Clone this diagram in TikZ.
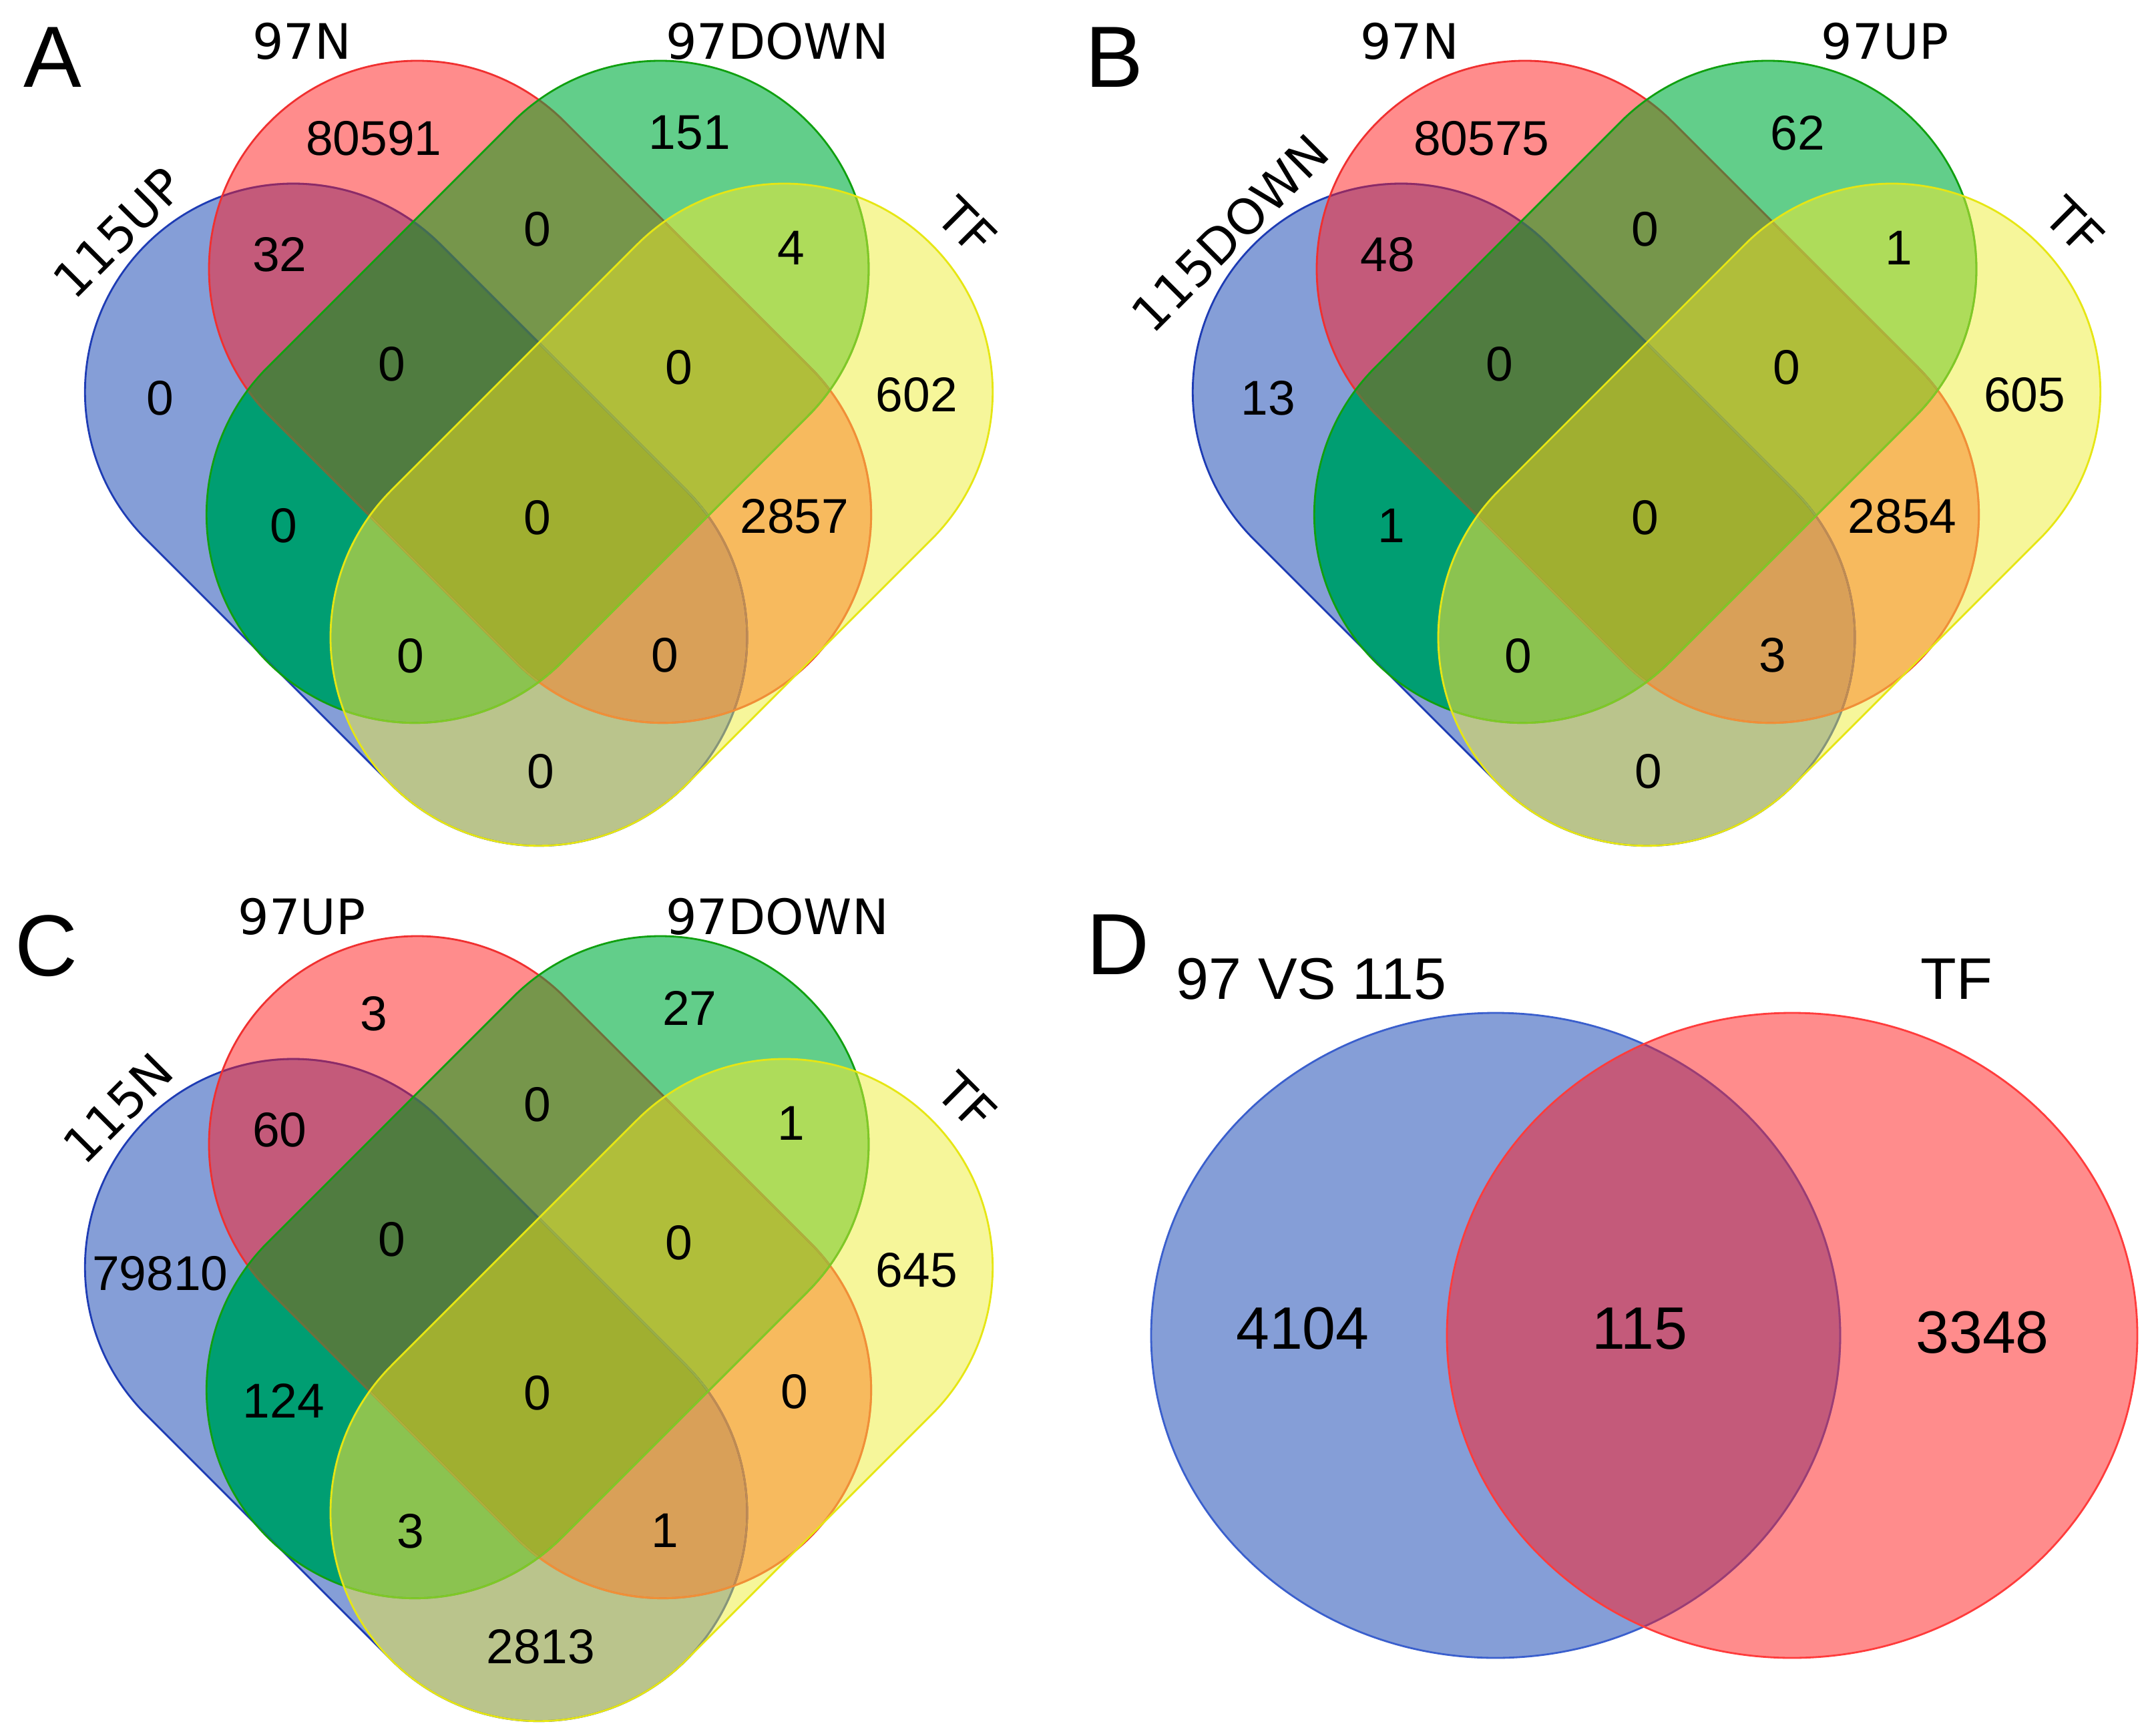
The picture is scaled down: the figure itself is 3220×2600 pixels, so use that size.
\documentclass[tikz,border=0pt]{standalone}
\usepackage{fontspec}
\setmainfont{Liberation Sans}
\newfontfamily\labfont{DejaVu Sans}
\definecolor{cB}{HTML}{859ED7}
\definecolor{cR}{HTML}{FF8C8C}
\definecolor{cG}{HTML}{62CE8A}
\definecolor{cY}{HTML}{F6F69A}
\definecolor{cBR}{HTML}{C45A7A}
\definecolor{cBG}{HTML}{009E72}
\definecolor{cBY}{HTML}{BAC48C}
\definecolor{cRG}{HTML}{76964B}
\definecolor{cRY}{HTML}{F7BA5E}
\definecolor{cGY}{HTML}{AEDC5A}
\definecolor{cBRG}{HTML}{507C40}
\definecolor{cBRY}{HTML}{D9A058}
\definecolor{cBGY}{HTML}{8BC350}
\definecolor{cRGY}{HTML}{B0BE3A}
\definecolor{cAll}{HTML}{A0AF30}
\definecolor{oB}{HTML}{1E3CB4}
\definecolor{oR}{HTML}{F03030}
\definecolor{oG}{HTML}{10A010}
\definecolor{oY}{HTML}{E6E614}
\definecolor{tintR}{HTML}{FF1A1A}
\definecolor{tintG}{HTML}{00AA46}
\definecolor{tintY}{HTML}{F0F03C}
\definecolor{dB}{HTML}{3A5FCD}
\definecolor{dR}{HTML}{FF3C3C}
\tikzset{
  num/.style={font=\fontsize{20.8pt}{25pt}\selectfont, inner sep=0pt},
  lab/.style={font=\labfont\fontsize{20.8pt}{25pt}\selectfont, inner sep=0pt},
  letter/.style={font=\fontsize{37pt}{44pt}\selectfont, inner sep=0pt},
  dnum/.style={font=\fontsize{25.5pt}{30pt}\selectfont, inner sep=0pt},
  dlab/.style={font=\fontsize{25pt}{30pt}\selectfont, inner sep=0pt},
  edge/.style={line width=0.8pt},
  tR/.style={edge, draw=tintR, draw opacity=0.5},
  tG/.style={edge, draw=tintG, draw opacity=0.55},
  tY/.style={edge, draw=tintY, draw opacity=0.5},
}
\newcommand\capsulepath[2]{(#1) ++({#2-90}:312) -- ++(#2:520) arc[start angle={#2-90}, end angle={#2+90}, radius=312] -- ++({#2+180}:520) arc[start angle={#2+90}, end angle={#2+270}, radius=312] -- cycle}
\def\pB{\capsulepath{439.3,587}{45}}
\def\pR{\capsulepath{625,403}{45}}
\def\pG{\capsulepath{989,403}{135}}
\def\pY{\capsulepath{1174.7,587}{135}}
\newcommand\fourvenn{%
  \fill[cB] \pB; \fill[cR] \pR; \fill[cG] \pG; \fill[cY] \pY;
  \begin{scope}\clip \pB; \fill[cBR] \pR; \end{scope}
  \begin{scope}\clip \pB; \fill[cBG] \pG; \end{scope}
  \begin{scope}\clip \pB; \fill[cBY] \pY; \end{scope}
  \begin{scope}\clip \pR; \fill[cRG] \pG; \end{scope}
  \begin{scope}\clip \pR; \fill[cRY] \pY; \end{scope}
  \begin{scope}\clip \pG; \fill[cGY] \pY; \end{scope}
  \begin{scope}\clip \pB; \clip \pR; \fill[cBRG] \pG; \end{scope}
  \begin{scope}\clip \pB; \clip \pR; \fill[cBRY] \pY; \end{scope}
  \begin{scope}\clip \pB; \clip \pG; \fill[cBGY] \pY; \end{scope}
  \begin{scope}\clip \pR; \clip \pG; \fill[cRGY] \pY; \end{scope}
  \begin{scope}\clip \pB; \clip \pR; \clip \pG; \fill[cAll] \pY; \end{scope}
  \draw[edge, oB] \pB;
  \begin{scope}\clip \pR; \draw[tR] \pB; \end{scope}
  \begin{scope}\clip \pG; \draw[tG] \pB; \end{scope}
  \begin{scope}\clip \pY; \draw[tY] \pB; \end{scope}
  \draw[edge, oR] \pR;
  \begin{scope}\clip \pG; \draw[tG] \pR; \end{scope}
  \begin{scope}\clip \pY; \draw[tY] \pR; \end{scope}
  \draw[edge, oG] \pG;
  \begin{scope}\clip \pY; \draw[tY] \pG; \end{scope}
  \draw[edge, oY] \pY;
}
\begin{document}
\begin{tikzpicture}[x=0.01cm, y=-0.01cm]
\useasboundingbox (0,0) rectangle (3220,2600);
% ---------- Panel A ----------
\begin{scope}
  \fourvenn
  \node[num] (a-r) at (560,207) {80591};
  \node[num] (a-g) at (1033,199) {151};
  \node[num] (a-b) at (240,596) {0};
  \node[num] (a-y) at (1373,591) {602};
  \node[num] (a-br) at (419,381) {32};
  \node[num] (a-rg) at (805,343) {0};
  \node[num] (a-gy) at (1185,371) {4};
  \node[num] (a-brg) at (587,545) {0};
  \node[num] (a-rgy) at (1017,550) {0};
  \node[num] (a-bg) at (425,787) {0};
  \node[num] (a-all) at (805,775) {0};
  \node[num] (a-ry) at (1190,773) {2857};
  \node[num] (a-bgy) at (615,982) {0};
  \node[num] (a-bry) at (996,981) {0};
  \node[num] (a-by) at (810,1155) {0};
  \node[lab] (a-l1) at (452,62) {97N};
  \node[lab] (a-l2) at (1164,62) {97DOWN};
  \node[lab, rotate=45] (a-l3) at (177,349) {115UP};
  \node[lab, rotate=-45] (a-l4) at (1448,339) {TF};
\end{scope}
\node[letter] (la) at (79,86) {A};
% ---------- Panel B ----------
\begin{scope}[shift={(1659,0)}]
  \fourvenn
  \node[num] (b-r) at (560,207) {80575};
  \node[num] (b-g) at (1033,199) {62};
  \node[num] (b-b) at (240,596) {13};
  \node[num] (b-y) at (1373,591) {605};
  \node[num] (b-br) at (419,381) {48};
  \node[num] (b-rg) at (805,343) {0};
  \node[num] (b-gy) at (1185,371) {1};
  \node[num] (b-brg) at (587,545) {0};
  \node[num] (b-rgy) at (1017,550) {0};
  \node[num] (b-bg) at (425,787) {1};
  \node[num] (b-all) at (805,775) {0};
  \node[num] (b-ry) at (1190,773) {2854};
  \node[num] (b-bgy) at (615,982) {0};
  \node[num] (b-bry) at (996,981) {3};
  \node[num] (b-by) at (810,1155) {0};
  \node[lab] (b-l1) at (452,62) {97N};
  \node[lab] (b-l2) at (1164,62) {97UP};
  \node[lab, rotate=45] (b-l3) at (183,349) {115DOWN};
  \node[lab, rotate=-45] (b-l4) at (1448,339) {TF};
\end{scope}
\node[letter] (lb) at (1669,86) {B};
% ---------- Panel C ----------
\begin{scope}[shift={(0,1311)}]
  \fourvenn
  \node[num] (c-r) at (560,207) {3};
  \node[num] (c-g) at (1033,199) {27};
  \node[num] (c-b) at (240,596) {79810};
  \node[num] (c-y) at (1373,591) {645};
  \node[num] (c-br) at (419,381) {60};
  \node[num] (c-rg) at (805,343) {0};
  \node[num] (c-gy) at (1185,371) {1};
  \node[num] (c-brg) at (587,545) {0};
  \node[num] (c-rgy) at (1017,550) {0};
  \node[num] (c-bg) at (425,787) {124};
  \node[num] (c-all) at (805,775) {0};
  \node[num] (c-ry) at (1190,773) {0};
  \node[num] (c-bgy) at (615,982) {3};
  \node[num] (c-bry) at (996,981) {1};
  \node[num] (c-by) at (810,1155) {2813};
  \node[lab] (c-l1) at (452,62) {97UP};
  \node[lab] (c-l2) at (1164,62) {97DOWN};
  \node[lab, rotate=45] (c-l3) at (177,349) {115N};
  \node[lab, rotate=-45] (c-l4) at (1448,339) {TF};
\end{scope}
\node[letter] (lc) at (69,1417) {C};
% ---------- Panel D ----------
\def\eB{(2240,2000) ellipse [x radius=516, y radius=483]}
\def\eR{(2684,2000) ellipse [x radius=517, y radius=483]}
\fill[cB] \eB;
\fill[cR] \eR;
\begin{scope}\clip \eB; \fill[cBR] \eR; \end{scope}
\draw[edge, dB] \eB;
\begin{scope}\clip \eR; \draw[tR] \eB; \end{scope}
\draw[edge, dR] \eR;
\node[letter] (ld) at (1674,1415) {D};
\node[dlab] (d-l1) at (1964,1466) {97 VS 115};
\node[dlab] (d-l2) at (2930,1466) {TF};
\node[dnum] (d-b) at (1951,1990) {4104};
\node[dnum] (d-br) at (2456,1990) {115};
\node[dnum] (d-r) at (2969,1996) {3348};
\end{tikzpicture}
\end{document}
